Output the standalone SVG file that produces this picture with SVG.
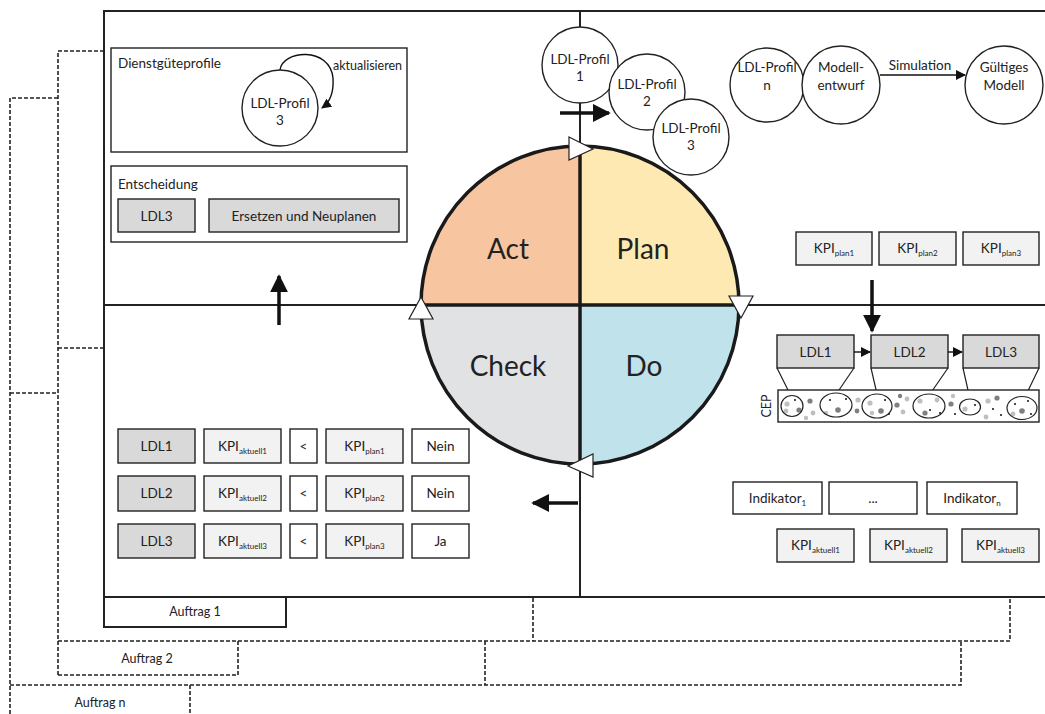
<svg xmlns="http://www.w3.org/2000/svg" width="1045" height="714" viewBox="0 0 1045 714">
<defs>
<style>
text{font-family:"Lato","Liberation Sans",sans-serif;fill:#222;}
.t{font-size:13.5px;}
.s{font-size:12.5px;}
.big{font-size:28px;text-anchor:middle;}
.c{text-anchor:middle;}
.frame{stroke:#222;stroke-width:2;fill:none;}
.dash{stroke:#222;stroke-width:1.6;fill:none;stroke-dasharray:4 2;}
.box{stroke:#222;stroke-width:1.4;fill:#fff;}
.dk{stroke:#222;stroke-width:1.4;fill:#d9d9d9;}
.lt{stroke:#222;stroke-width:1.4;fill:#f2f2f2;}
.node{stroke:#222;stroke-width:1.4;fill:#fff;}
.thick{stroke:#111;stroke-width:3.5;fill:none;}
.thin{stroke:#111;stroke-width:1.4;fill:none;}
.tri{fill:#fff;stroke:#222;stroke-width:1.2;}
.d1{fill:#7f7f7f;}
.d2{fill:#bfbfbf;}
.d3{fill:#111;}
.fl{stroke:#222;stroke-width:1.2;fill:none;}
</style>
<marker id="big" viewBox="0 0 10 10" refX="9" refY="5" markerWidth="18" markerHeight="18" markerUnits="userSpaceOnUse" orient="auto"><path d="M0,0 L10,5 L0,10 z" fill="#111"/></marker>
<marker id="sm" viewBox="0 0 10 10" refX="9" refY="5" markerWidth="10" markerHeight="10" markerUnits="userSpaceOnUse" orient="auto"><path d="M0,0 L10,5 L0,10 z" fill="#111"/></marker>
</defs>
<rect width="1045" height="714" fill="#fff"/>

<!-- background order frames -->
<g id="frames">
<path class="dash" d="M10,714 L10,98 L58,98 M10,393 L58,393 M10,685 L961,685 L961,641 M485,641 L485,685 M190,685 L190,714"/>
<path class="dash" d="M58,675 L58,51 L104,51 M58,348 L104,348 M58,641 L1010,641 L1010,598 M533,598 L533,641 M238,641 L238,675 L58,675"/>
<path class="frame" d="M1045,11 L104,11 L104,597 L1045,597 M580,11 L580,597 M104,305 L1045,305"/>
<rect class="frame" x="104" y="597" width="182" height="30"/>
<text class="s c" x="195" y="616">Auftrag 1</text>
<text class="s c" x="147" y="663">Auftrag 2</text>
<text class="s c" x="100" y="707">Auftrag n</text>
</g>

<!-- PDCA circle -->
<g id="pdca">
<path d="M580,305 L421,305 A159,159 0 0 1 580,146 Z" fill="#f8c5a1"/>
<path d="M580,305 L580,146 A159,159 0 0 1 739,305 Z" fill="#fde9b1"/>
<path d="M580,305 L739,305 A159,159 0 0 1 580,464 Z" fill="#c0e2ea"/>
<path d="M580,305 L580,464 A159,159 0 0 1 421,305 Z" fill="#e1e2e4"/>
<circle cx="580" cy="305" r="159" fill="none" stroke="#1a1a1a" stroke-width="3.5"/>
<path d="M580,146 L580,464 M421,305 L739,305" stroke="#1a1a1a" stroke-width="3.5"/>
<text class="big" x="508" y="259">Act</text>
<text class="big" x="643" y="259">Plan</text>
<text class="big" x="508" y="376">Check</text>
<text class="big" x="644" y="376">Do</text>
<polygon class="tri" points="569,137 593,149 569,160"/>
<polygon class="tri" points="729,296 753,296 741,318"/>
<polygon class="tri" points="593,454 593,477 568,466"/>
<polygon class="tri" points="409,319 433,319 421,297"/>
</g>

<!-- Act quadrant -->
<g id="dienstgueteprofile">
<rect class="box" x="111" y="48" width="296" height="104"/>
<text class="t" x="118" y="68">Dienstgüteprofile</text>
<text class="s" x="333" y="70">aktualisieren</text>
</g>
<g id="ldl-profil-3a">
<circle class="node" cx="280" cy="108" r="38"/>
<text class="t c" x="280" y="108">LDL-Profil</text>
<text class="t c" x="280" y="125">3</text>
</g>
<g id="entscheidung">
<rect class="box" x="111" y="166" width="296" height="76"/>
<text class="t" x="118" y="189">Entscheidung</text>
<rect class="dk" x="118" y="199" width="77" height="33"/>
<text class="t c" x="156.5" y="221">LDL3</text>
<rect class="dk" x="209" y="199" width="190" height="33"/>
<text class="t c" x="304" y="221">Ersetzen und Neuplanen</text>
</g>

<!-- Plan quadrant -->
<g id="ldl-profil-1">
<circle class="node" cx="580" cy="65" r="38"/>
<text class="t c" x="580" y="64">LDL-Profil</text>
<text class="t c" x="580" y="81">1</text>
</g>
<g id="ldl-profil-2">
<circle class="node" cx="647" cy="92" r="38"/>
<text class="t c" x="647" y="89">LDL-Profil</text>
<text class="t c" x="647" y="106">2</text>
</g>
<g id="ldl-profil-3b">
<circle class="node" cx="691" cy="137" r="38"/>
<text class="t c" x="691" y="133">LDL-Profil</text>
<text class="t c" x="691" y="150">3</text>
</g>
<g id="ldl-profil-n">
<circle class="node" cx="767" cy="85" r="37"/>
<text class="t c" x="767" y="72">LDL-Profil</text>
<text class="t c" x="767" y="90">n</text>
</g>
<g id="modellentwurf">
<circle class="node" cx="841" cy="85" r="39"/>
<text class="t c" x="841" y="72">Modell-</text>
<text class="t c" x="841" y="90">entwurf</text>
</g>
<g id="gueltiges-modell">
<circle class="node" cx="1004" cy="85" r="39"/>
<text class="t c" x="1004" y="72">Gültiges</text>
<text class="t c" x="1004" y="90">Modell</text>
</g>
<text class="t c" x="920" y="70">Simulation</text>
<g id="kpi-plan">
<rect class="lt" x="796" y="232" width="76" height="33"/>
<text class="t c" x="834" y="253">KPI<tspan font-size="8" dy="3">plan1</tspan></text>
<rect class="lt" x="879" y="232" width="77" height="33"/>
<text class="t c" x="917.5" y="253">KPI<tspan font-size="8" dy="3">plan2</tspan></text>
<rect class="lt" x="963" y="232" width="76" height="33"/>
<text class="t c" x="1001" y="253">KPI<tspan font-size="8" dy="3">plan3</tspan></text>
</g>

<!-- Do quadrant -->
<g id="cep">
<path class="fl" d="M777,368 L791,396 M854,368 L837,393 M871,368 L877,394 M948,368 L930,394 M963,368 L970,399 M1039,368 L1025,397"/>
<rect class="box" x="778" y="390" width="261" height="32"/>
<text class="s c" transform="translate(771,406) rotate(-90)">CEP</text>
<g>
<circle class="d2" cx="787" cy="404" r="2.6"/><circle class="d3" cx="795" cy="400" r="1"/><circle class="d1" cx="799" cy="410" r="2.6"/><circle class="d2" cx="786" cy="411" r="2.4"/>
<circle class="d1" cx="810" cy="401" r="2.6"/><circle class="d2" cx="813" cy="413" r="2.4"/><circle class="d2" cx="806" cy="418" r="2.2"/>
<circle class="d3" cx="830" cy="400" r="1"/><circle class="d1" cx="838" cy="410" r="2.8"/><circle class="d3" cx="846" cy="399" r="1"/><circle class="d2" cx="826" cy="413" r="2.2"/>
<circle class="d2" cx="858" cy="400" r="2.6"/><circle class="d1" cx="857" cy="411" r="2.4"/>
<circle class="d2" cx="870" cy="403" r="2.6"/><circle class="d1" cx="881" cy="411" r="2.8"/><circle class="d3" cx="885" cy="400" r="1"/><circle class="d2" cx="872" cy="413" r="2.2"/><circle class="d3" cx="889" cy="414" r="1"/>
<circle class="d1" cx="897" cy="405" r="2.6"/><circle class="d2" cx="903" cy="412" r="2.4"/><circle class="d2" cx="907" cy="399" r="2.4"/><circle class="d1" cx="900" cy="396" r="2.2"/>
<circle class="d2" cx="920" cy="401" r="2.6"/><circle class="d3" cx="930" cy="410" r="1"/><circle class="d2" cx="937" cy="400" r="2.4"/><circle class="d1" cx="925" cy="413" r="2.6"/><circle class="d3" cx="940" cy="413" r="1"/>
<circle class="d1" cx="951" cy="404" r="2.6"/><circle class="d2" cx="953" cy="396" r="2.2"/><circle class="d3" cx="955" cy="414" r="1"/>
<circle class="d2" cx="965" cy="409" r="2.6"/><circle class="d3" cx="975" cy="405" r="1"/>
<circle class="d2" cx="988" cy="401" r="2.6"/><circle class="d3" cx="993" cy="409" r="1"/><circle class="d1" cx="997" cy="398" r="2.6"/><circle class="d2" cx="986" cy="417" r="2.4"/><circle class="d3" cx="1001" cy="415" r="1"/>
<circle class="d3" cx="1015" cy="404" r="1"/><circle class="d1" cx="1022" cy="411" r="2.8"/><circle class="d3" cx="1028" cy="401" r="1"/><circle class="d3" cx="1031" cy="414" r="1"/><circle class="d2" cx="1013" cy="414" r="2.4"/>
</g>
<ellipse class="fl" cx="792" cy="406" rx="11" ry="10.5"/>
<ellipse class="fl" cx="836" cy="405" rx="16" ry="12"/>
<ellipse class="fl" cx="877" cy="406" rx="15" ry="12"/>
<ellipse class="fl" cx="929" cy="406" rx="16" ry="12"/>
<ellipse class="fl" cx="970" cy="407" rx="10.5" ry="8"/>
<ellipse class="fl" cx="1022" cy="408" rx="15" ry="11.5"/>
</g>
<g id="ldl-chain">
<rect class="dk" x="777" y="335" width="77" height="33"/>
<text class="t c" x="815.5" y="357">LDL1</text>
<rect class="dk" x="871" y="335" width="77" height="33"/>
<text class="t c" x="909.5" y="357">LDL2</text>
<rect class="dk" x="963" y="335" width="76" height="33"/>
<text class="t c" x="1001" y="357">LDL3</text>
</g>
<g id="indikatoren">
<rect class="box" x="733" y="482" width="89" height="32"/>
<text class="t c" x="777.5" y="503">Indikator<tspan font-size="8" dy="3">1</tspan></text>
<rect class="box" x="829" y="482" width="88" height="32"/>
<text class="t c" x="873" y="503">...</text>
<rect class="box" x="927" y="482" width="90" height="32"/>
<text class="t c" x="972" y="503">Indikator<tspan font-size="8" dy="3">n</tspan></text>
</g>
<g id="kpi-aktuell">
<rect class="lt" x="777" y="529" width="77" height="33"/>
<text class="t c" x="815.5" y="550">KPI<tspan font-size="8" dy="3">aktuell1</tspan></text>
<rect class="lt" x="870" y="529" width="77" height="33"/>
<text class="t c" x="908.5" y="550">KPI<tspan font-size="8" dy="3">aktuell2</tspan></text>
<rect class="lt" x="962" y="529" width="77" height="33"/>
<text class="t c" x="1000.5" y="550">KPI<tspan font-size="8" dy="3">aktuell3</tspan></text>
</g>

<!-- Check quadrant -->
<g id="check-table">
<rect class="dk" x="118" y="429" width="77" height="34"/><text class="t c" x="156.5" y="451">LDL1</text>
<rect class="lt" x="204" y="429" width="77" height="34"/><text class="t c" x="242.5" y="451">KPI<tspan font-size="8" dy="3">aktuell1</tspan></text>
<rect class="box" x="290" y="429" width="27" height="34"/><text class="t c" x="303.5" y="451">&lt;</text>
<rect class="lt" x="326" y="429" width="77" height="34"/><text class="t c" x="364.5" y="451">KPI<tspan font-size="8" dy="3">plan1</tspan></text>
<rect class="box" x="412" y="429" width="57" height="34"/><text class="t c" x="440.5" y="451">Nein</text>

<rect class="dk" x="118" y="476" width="77" height="35"/><text class="t c" x="156.5" y="498">LDL2</text>
<rect class="lt" x="204" y="476" width="77" height="35"/><text class="t c" x="242.5" y="498">KPI<tspan font-size="8" dy="3">aktuell2</tspan></text>
<rect class="box" x="290" y="476" width="27" height="35"/><text class="t c" x="303.5" y="498">&lt;</text>
<rect class="lt" x="326" y="476" width="77" height="35"/><text class="t c" x="364.5" y="498">KPI<tspan font-size="8" dy="3">plan2</tspan></text>
<rect class="box" x="412" y="476" width="57" height="35"/><text class="t c" x="440.5" y="498">Nein</text>

<rect class="dk" x="118" y="524" width="77" height="34"/><text class="t c" x="156.5" y="546">LDL3</text>
<rect class="lt" x="204" y="524" width="77" height="34"/><text class="t c" x="242.5" y="546">KPI<tspan font-size="8" dy="3">aktuell3</tspan></text>
<rect class="box" x="290" y="524" width="27" height="34"/><text class="t c" x="303.5" y="546">&lt;</text>
<rect class="lt" x="326" y="524" width="77" height="34"/><text class="t c" x="364.5" y="546">KPI<tspan font-size="8" dy="3">plan3</tspan></text>
<rect class="box" x="412" y="524" width="57" height="34"/><text class="t c" x="440.5" y="546">Ja</text>
</g>

<g id="connectors">
<path class="thin" d="M280,70 C282,50 330,46 333,78 C334,94 329,103 322,108" marker-end="url(#sm)"/>
<path class="thin" d="M880,75 L965,75" marker-end="url(#sm)"/>
<path class="thin" d="M854,352 L870,352" marker-end="url(#sm)"/>
<path class="thin" d="M948,352 L962,352" marker-end="url(#sm)"/>
<path class="thick" d="M279,325 L279,276" marker-end="url(#big)"/>
<path class="thick" d="M560,113 L609,113" marker-end="url(#big)"/>
<path class="thick" d="M872,280 L872,331" marker-end="url(#big)"/>
<path class="thick" d="M578,503 L533,503" marker-end="url(#big)"/>
</g>
</svg>
